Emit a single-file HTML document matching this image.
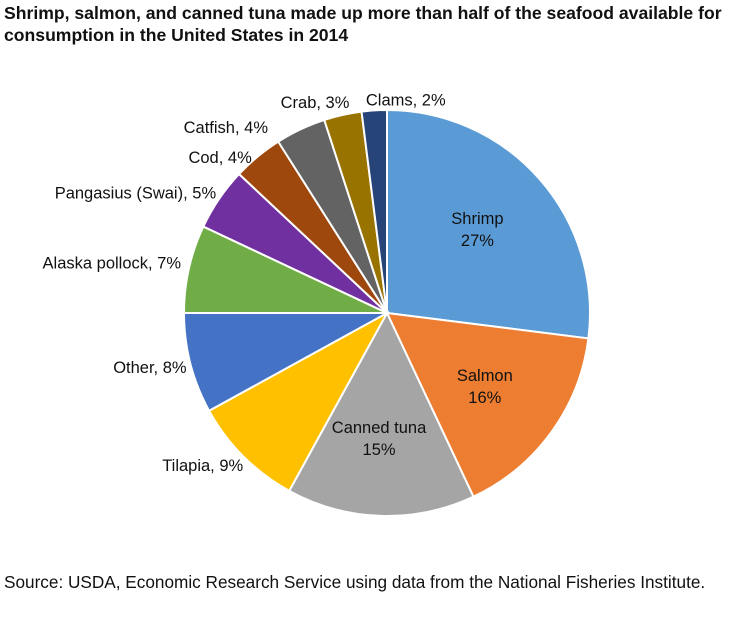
<!DOCTYPE html>
<html><head><meta charset="utf-8"><style>
body{margin:0;background:#fff;font-family:"Liberation Sans",Arial,sans-serif}
#wrap{position:relative;width:754px;height:618px}
#title{position:absolute;left:4px;top:2px;font-weight:bold;font-size:17.6px;line-height:22px;color:#111;white-space:nowrap}
#source{position:absolute;left:4px;top:572px;font-size:17.2px;color:#111;white-space:nowrap}
svg{position:absolute;left:0;top:0}
</style></head><body>
<div id="wrap">
<div id="title">Shrimp, salmon, and canned tuna made up more than half of the seafood available for<br>consumption in the United States in 2014</div>
<svg id="pie" width="754" height="618"></svg>
<div id="source">Source: USDA, Economic Research Service using data from the National Fisheries Institute.</div>
</div>
<script>
const categories=["Shrimp","Salmon","Canned tuna","Tilapia","Other","Alaska pollock","Pangasius (Swai)","Cod","Catfish","Crab","Clams"];
const values=[27,16,15,9,8,7,5,4,4,3,2];
const colors=["#5b9bd5","#ed7d31","#a5a5a5","#ffc000","#4472c4","#70ad47","#7030a0","#9e480e","#636363","#997300","#264478"];
const inside=[true,true,true,false,false,false,false,false,false,false,false];
// label nudges (layout only)
const ldx=[0,0,0,4,2,-2,2,-2,-30,8,-8];
const ldy=[0,0,0,5,3,-4,-2,6,4,-6,-4];
const cx=387,cy=313,r=203;
const svg=document.getElementById('pie');
const NS='http://www.w3.org/2000/svg';
const total=values.reduce((a,b)=>a+b,0);
function pt(a,rr){return [cx+rr*Math.sin(a),cy-rr*Math.cos(a)];}
let acc=0;
values.forEach((v,i)=>{
  const a0=acc/total*2*Math.PI;acc+=v;const a1=acc/total*2*Math.PI;
  const p0=pt(a0,r),p1=pt(a1,r);
  const large=(a1-a0)>Math.PI?1:0;
  const path=document.createElementNS(NS,'path');
  path.setAttribute('d',`M${cx},${cy}L${p0[0]},${p0[1]}A${r},${r} 0 ${large} 1 ${p1[0]},${p1[1]}Z`);
  path.setAttribute('fill',colors[i]);path.setAttribute('stroke','#fff');path.setAttribute('stroke-width','2');
  
  
  svg.appendChild(path);
  const am=(a0+a1)/2;
  const t=document.createElementNS(NS,'text');
  t.setAttribute('font-size','16.5');t.setAttribute('fill','#111');
  t.setAttribute('font-family','Liberation Sans, Arial, sans-serif');
  if(inside[i]){
    const p=pt(am,r*0.62);
    t.setAttribute('text-anchor','middle');
    const s1=document.createElementNS(NS,'tspan');s1.setAttribute('x',p[0]-4);s1.setAttribute('y',p[1]-6);s1.textContent=categories[i];
    const s2=document.createElementNS(NS,'tspan');s2.setAttribute('x',p[0]-4);s2.setAttribute('y',p[1]+16);s2.textContent=v+'%';
    t.appendChild(s1);t.appendChild(s2);
  }else{
    const p=pt(am,r+6);
    const s=Math.sin(am);
    t.setAttribute('text-anchor',s>-0.08?'start':'end');
    t.setAttribute('x',p[0]+ldx[i]);t.setAttribute('y',p[1]+5+ldy[i]);
    t.textContent=categories[i]+', '+v+'%';
  }
  
  
  svg.appendChild(t);
});
</script>
</body></html>
